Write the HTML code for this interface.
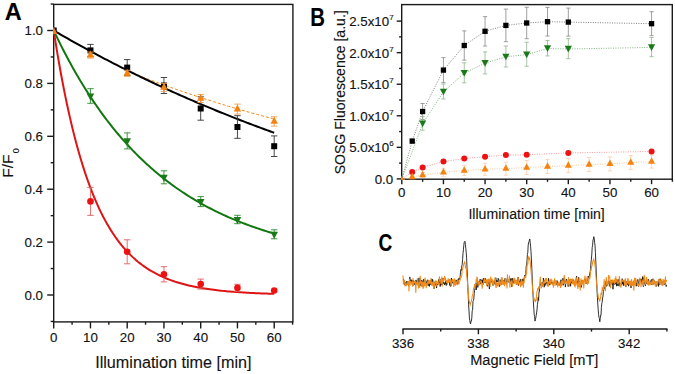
<!DOCTYPE html>
<html><head><meta charset="utf-8"><style>
html,body{margin:0;padding:0;background:#fff;}
svg{display:block;}
text{font-family:"Liberation Sans", sans-serif;fill:#111;stroke:#111;stroke-width:0.12px;}
.tl{font-size:13.3px;}
.sup{font-size:8px;}
.xt{font-size:16.3px;}
.xt2{font-size:14px;}
.xt3{font-size:14px;}
.yt{font-size:15.5px;}
.yt2{font-size:13.8px;}
.pl{font-size:24.5px;font-weight:bold;fill:#000;}
</style></head><body>
<svg width="675" height="374" viewBox="0 0 675 374">
<rect x="53.7" y="4.4" width="239.2" height="317.5" fill="none" stroke="#1a1a1a" stroke-width="1.4"/>
<line x1="47.2" y1="295.00" x2="53.7" y2="295.00" stroke="#1a1a1a" stroke-width="1.4"/>
<text x="43.0" y="299.60" text-anchor="end" class="tl">0.0</text>
<line x1="47.2" y1="242.10" x2="53.7" y2="242.10" stroke="#1a1a1a" stroke-width="1.4"/>
<text x="43.0" y="246.70" text-anchor="end" class="tl">0.2</text>
<line x1="47.2" y1="189.20" x2="53.7" y2="189.20" stroke="#1a1a1a" stroke-width="1.4"/>
<text x="43.0" y="193.80" text-anchor="end" class="tl">0.4</text>
<line x1="47.2" y1="136.30" x2="53.7" y2="136.30" stroke="#1a1a1a" stroke-width="1.4"/>
<text x="43.0" y="140.90" text-anchor="end" class="tl">0.6</text>
<line x1="47.2" y1="83.40" x2="53.7" y2="83.40" stroke="#1a1a1a" stroke-width="1.4"/>
<text x="43.0" y="88.00" text-anchor="end" class="tl">0.8</text>
<line x1="47.2" y1="30.50" x2="53.7" y2="30.50" stroke="#1a1a1a" stroke-width="1.4"/>
<text x="43.0" y="35.10" text-anchor="end" class="tl">1.0</text>
<line x1="50.7" y1="321.45" x2="53.7" y2="321.45" stroke="#1a1a1a" stroke-width="1.4"/>
<line x1="50.7" y1="268.55" x2="53.7" y2="268.55" stroke="#1a1a1a" stroke-width="1.4"/>
<line x1="50.7" y1="215.65" x2="53.7" y2="215.65" stroke="#1a1a1a" stroke-width="1.4"/>
<line x1="50.7" y1="162.75" x2="53.7" y2="162.75" stroke="#1a1a1a" stroke-width="1.4"/>
<line x1="50.7" y1="109.85" x2="53.7" y2="109.85" stroke="#1a1a1a" stroke-width="1.4"/>
<line x1="50.7" y1="56.95" x2="53.7" y2="56.95" stroke="#1a1a1a" stroke-width="1.4"/>
<line x1="50.7" y1="4.05" x2="53.7" y2="4.05" stroke="#1a1a1a" stroke-width="1.4"/>
<line x1="53.70" y1="321.9" x2="53.70" y2="328.4" stroke="#1a1a1a" stroke-width="1.4"/>
<text x="53.70" y="342.2" text-anchor="middle" class="tl">0</text>
<line x1="90.45" y1="321.9" x2="90.45" y2="328.4" stroke="#1a1a1a" stroke-width="1.4"/>
<text x="90.45" y="342.2" text-anchor="middle" class="tl">10</text>
<line x1="127.20" y1="321.9" x2="127.20" y2="328.4" stroke="#1a1a1a" stroke-width="1.4"/>
<text x="127.20" y="342.2" text-anchor="middle" class="tl">20</text>
<line x1="163.95" y1="321.9" x2="163.95" y2="328.4" stroke="#1a1a1a" stroke-width="1.4"/>
<text x="163.95" y="342.2" text-anchor="middle" class="tl">30</text>
<line x1="200.70" y1="321.9" x2="200.70" y2="328.4" stroke="#1a1a1a" stroke-width="1.4"/>
<text x="200.70" y="342.2" text-anchor="middle" class="tl">40</text>
<line x1="237.45" y1="321.9" x2="237.45" y2="328.4" stroke="#1a1a1a" stroke-width="1.4"/>
<text x="237.45" y="342.2" text-anchor="middle" class="tl">50</text>
<line x1="274.20" y1="321.9" x2="274.20" y2="328.4" stroke="#1a1a1a" stroke-width="1.4"/>
<text x="274.20" y="342.2" text-anchor="middle" class="tl">60</text>
<line x1="72.08" y1="321.9" x2="72.08" y2="324.7" stroke="#1a1a1a" stroke-width="1.4"/>
<line x1="108.83" y1="321.9" x2="108.83" y2="324.7" stroke="#1a1a1a" stroke-width="1.4"/>
<line x1="145.57" y1="321.9" x2="145.57" y2="324.7" stroke="#1a1a1a" stroke-width="1.4"/>
<line x1="182.32" y1="321.9" x2="182.32" y2="324.7" stroke="#1a1a1a" stroke-width="1.4"/>
<line x1="219.07" y1="321.9" x2="219.07" y2="324.7" stroke="#1a1a1a" stroke-width="1.4"/>
<line x1="255.82" y1="321.9" x2="255.82" y2="324.7" stroke="#1a1a1a" stroke-width="1.4"/>
<line x1="292.57" y1="321.9" x2="292.57" y2="324.7" stroke="#1a1a1a" stroke-width="1.4"/>
<text x="95.2" y="368" textLength="156.3" lengthAdjust="spacingAndGlyphs" class="xt">Illumination time [min]</text>
<text transform="translate(13.4,177.7) rotate(-90)" class="yt">F/F<tspan dx="1.3" dy="5.7" font-size="9">0</tspan></text>
<text transform="translate(4.7,20.0) scale(0.96,1)" class="pl">A</text>
<defs><clipPath id="cA"><rect x="53.0" y="4.4" width="239.89999999999998" height="318.2"/></clipPath><clipPath id="cB"><rect x="401.0" y="4.6" width="271.3" height="175.3"/></clipPath></defs>
<g clip-path="url(#cA)">
<path d="M53.70,30.50 L55.54,42.19 L57.38,53.36 L59.21,64.04 L61.05,74.25 L62.89,84.00 L64.72,93.33 L66.56,102.24 L68.40,110.76 L70.24,118.90 L72.08,126.68 L73.91,134.12 L75.75,141.23 L77.59,148.03 L79.42,154.52 L81.26,160.73 L83.10,166.67 L84.94,172.34 L86.78,177.76 L88.61,182.94 L90.45,187.89 L92.29,192.63 L94.12,197.15 L95.96,201.47 L97.80,205.61 L99.64,209.56 L101.47,213.33 L103.31,216.94 L105.15,220.39 L106.99,223.69 L108.83,226.84 L110.66,229.85 L112.50,232.73 L114.34,235.48 L116.17,238.11 L118.01,240.63 L119.85,243.03 L121.69,245.33 L123.53,247.52 L125.36,249.62 L127.20,251.63 L129.04,253.54 L130.88,255.38 L132.71,257.13 L134.55,258.80 L136.39,260.40 L138.22,261.93 L140.06,263.39 L141.90,264.79 L143.74,266.12 L145.57,267.40 L147.41,268.62 L149.25,269.78 L151.09,270.90 L152.93,271.96 L154.76,272.98 L156.60,273.96 L158.44,274.89 L160.27,275.77 L162.11,276.62 L163.95,277.44 L165.79,278.21 L167.62,278.95 L169.46,279.66 L171.30,280.34 L173.14,280.99 L174.97,281.61 L176.81,282.20 L178.65,282.77 L180.49,283.31 L182.32,283.82 L184.16,284.32 L186.00,284.79 L187.84,285.24 L189.68,285.67 L191.51,286.08 L193.35,286.48 L195.19,286.85 L197.02,287.21 L198.86,287.56 L200.70,287.89 L202.54,288.20 L204.38,288.50 L206.21,288.79 L208.05,289.06 L209.89,289.33 L211.73,289.58 L213.56,289.82 L215.40,290.05 L217.24,290.26 L219.07,290.47 L220.91,290.67 L222.75,290.87 L224.59,291.05 L226.43,291.22 L228.26,291.39 L230.10,291.55 L231.94,291.70 L233.77,291.85 L235.61,291.99 L237.45,292.12 L239.29,292.25 L241.12,292.37 L242.96,292.49 L244.80,292.60 L246.64,292.70 L248.47,292.80 L250.31,292.90 L252.15,292.99 L253.99,293.08 L255.82,293.17 L257.66,293.25 L259.50,293.33 L261.34,293.40 L263.18,293.47 L265.01,293.54 L266.85,293.60 L268.69,293.66 L270.52,293.72 L272.36,293.78 L274.20,293.83" fill="none" stroke="#dd1515" stroke-width="2"/>
<g stroke="#e06060" stroke-width="0.9" opacity="1"><line x1="90.45" y1="187.40" x2="90.45" y2="215.40"/><line x1="87.25" y1="187.40" x2="93.65" y2="187.40"/><line x1="87.25" y1="215.40" x2="93.65" y2="215.40"/></g>
<g stroke="#e06060" stroke-width="0.9" opacity="1"><line x1="127.20" y1="239.80" x2="127.20" y2="263.80"/><line x1="124.00" y1="239.80" x2="130.40" y2="239.80"/><line x1="124.00" y1="263.80" x2="130.40" y2="263.80"/></g>
<g stroke="#e06060" stroke-width="0.9" opacity="1"><line x1="163.95" y1="266.70" x2="163.95" y2="281.90"/><line x1="160.75" y1="266.70" x2="167.15" y2="266.70"/><line x1="160.75" y1="281.90" x2="167.15" y2="281.90"/></g>
<g stroke="#e06060" stroke-width="0.9" opacity="1"><line x1="200.70" y1="279.10" x2="200.70" y2="289.10"/><line x1="197.50" y1="279.10" x2="203.90" y2="279.10"/><line x1="197.50" y1="289.10" x2="203.90" y2="289.10"/></g>
<g stroke="#e06060" stroke-width="0.9" opacity="1"><line x1="237.45" y1="284.30" x2="237.45" y2="291.50"/><line x1="234.25" y1="284.30" x2="240.65" y2="284.30"/><line x1="234.25" y1="291.50" x2="240.65" y2="291.50"/></g>
<circle cx="90.45" cy="201.40" r="3.3" fill="#ee1111"/>
<circle cx="127.20" cy="251.80" r="3.3" fill="#ee1111"/>
<circle cx="163.95" cy="274.30" r="3.3" fill="#ee1111"/>
<circle cx="200.70" cy="284.10" r="3.3" fill="#ee1111"/>
<circle cx="237.45" cy="287.90" r="3.3" fill="#ee1111"/>
<circle cx="274.20" cy="290.50" r="3.3" fill="#ee1111"/>
<path d="M53.70,30.50 L55.54,34.36 L57.38,38.16 L59.21,41.90 L61.05,45.58 L62.89,49.20 L64.72,52.75 L66.56,56.25 L68.40,59.69 L70.24,63.08 L72.08,66.41 L73.91,69.68 L75.75,72.90 L77.59,76.07 L79.42,79.19 L81.26,82.25 L83.10,85.26 L84.94,88.23 L86.78,91.15 L88.61,94.01 L90.45,96.84 L92.29,99.61 L94.12,102.34 L95.96,105.03 L97.80,107.67 L99.64,110.26 L101.47,112.82 L103.31,115.33 L105.15,117.80 L106.99,120.23 L108.83,122.62 L110.66,124.98 L112.50,127.29 L114.34,129.56 L116.17,131.80 L118.01,134.00 L119.85,136.17 L121.69,138.30 L123.53,140.39 L125.36,142.45 L127.20,144.48 L129.04,146.47 L130.88,148.43 L132.71,150.36 L134.55,152.26 L136.39,154.12 L138.22,155.96 L140.06,157.76 L141.90,159.54 L143.74,161.28 L145.57,163.00 L147.41,164.69 L149.25,166.35 L151.09,167.98 L152.93,169.59 L154.76,171.17 L156.60,172.73 L158.44,174.26 L160.27,175.76 L162.11,177.24 L163.95,178.70 L165.79,180.13 L167.62,181.54 L169.46,182.92 L171.30,184.28 L173.14,185.62 L174.97,186.94 L176.81,188.24 L178.65,189.51 L180.49,190.76 L182.32,192.00 L184.16,193.21 L186.00,194.40 L187.84,195.58 L189.68,196.73 L191.51,197.87 L193.35,198.98 L195.19,200.08 L197.02,201.16 L198.86,202.23 L200.70,203.27 L202.54,204.30 L204.38,205.31 L206.21,206.30 L208.05,207.28 L209.89,208.25 L211.73,209.19 L213.56,210.12 L215.40,211.04 L217.24,211.94 L219.07,212.82 L220.91,213.70 L222.75,214.55 L224.59,215.40 L226.43,216.22 L228.26,217.04 L230.10,217.84 L231.94,218.63 L233.77,219.41 L235.61,220.17 L237.45,220.92 L239.29,221.66 L241.12,222.39 L242.96,223.10 L244.80,223.80 L246.64,224.49 L248.47,225.17 L250.31,225.84 L252.15,226.50 L253.99,227.15 L255.82,227.78 L257.66,228.41 L259.50,229.02 L261.34,229.63 L263.18,230.22 L265.01,230.81 L266.85,231.39 L268.69,231.95 L270.52,232.51 L272.36,233.06 L274.20,233.60" fill="none" stroke="#117711" stroke-width="2"/>
<g stroke="#2a8a2a" stroke-width="0.9" opacity="1"><line x1="90.45" y1="88.70" x2="90.45" y2="103.30"/><line x1="87.25" y1="88.70" x2="93.65" y2="88.70"/><line x1="87.25" y1="103.30" x2="93.65" y2="103.30"/></g>
<g stroke="#2a8a2a" stroke-width="0.9" opacity="1"><line x1="127.20" y1="132.90" x2="127.20" y2="148.90"/><line x1="124.00" y1="132.90" x2="130.40" y2="132.90"/><line x1="124.00" y1="148.90" x2="130.40" y2="148.90"/></g>
<g stroke="#2a8a2a" stroke-width="0.9" opacity="1"><line x1="163.95" y1="170.80" x2="163.95" y2="183.80"/><line x1="160.75" y1="170.80" x2="167.15" y2="170.80"/><line x1="160.75" y1="183.80" x2="167.15" y2="183.80"/></g>
<g stroke="#2a8a2a" stroke-width="0.9" opacity="1"><line x1="200.70" y1="196.60" x2="200.70" y2="206.60"/><line x1="197.50" y1="196.60" x2="203.90" y2="196.60"/><line x1="197.50" y1="206.60" x2="203.90" y2="206.60"/></g>
<g stroke="#2a8a2a" stroke-width="0.9" opacity="1"><line x1="237.45" y1="215.30" x2="237.45" y2="223.70"/><line x1="234.25" y1="215.30" x2="240.65" y2="215.30"/><line x1="234.25" y1="223.70" x2="240.65" y2="223.70"/></g>
<g stroke="#2a8a2a" stroke-width="0.9" opacity="1"><line x1="274.20" y1="229.80" x2="274.20" y2="238.80"/><line x1="271.00" y1="229.80" x2="277.40" y2="229.80"/><line x1="271.00" y1="238.80" x2="277.40" y2="238.80"/></g>
<path d="M90.45,100.53 L94.25,93.47 L86.65,93.47Z" fill="#1a7a1a"/>
<path d="M127.20,145.43 L131.00,138.37 L123.40,138.37Z" fill="#1a7a1a"/>
<path d="M163.95,181.83 L167.75,174.77 L160.15,174.77Z" fill="#1a7a1a"/>
<path d="M200.70,206.13 L204.50,199.07 L196.90,199.07Z" fill="#1a7a1a"/>
<path d="M237.45,224.03 L241.25,216.97 L233.65,216.97Z" fill="#1a7a1a"/>
<path d="M274.20,238.83 L278.00,231.77 L270.40,231.77Z" fill="#1a7a1a"/>
<path d="M53.70,30.50 L55.54,31.58 L57.38,32.65 L59.21,33.71 L61.05,34.78 L62.89,35.83 L64.72,36.89 L66.56,37.94 L68.40,38.98 L70.24,40.02 L72.08,41.06 L73.91,42.09 L75.75,43.12 L77.59,44.15 L79.42,45.17 L81.26,46.18 L83.10,47.20 L84.94,48.20 L86.78,49.21 L88.61,50.21 L90.45,51.20 L92.29,52.19 L94.12,53.18 L95.96,54.16 L97.80,55.14 L99.64,56.12 L101.47,57.09 L103.31,58.06 L105.15,59.02 L106.99,59.98 L108.83,60.94 L110.66,61.89 L112.50,62.84 L114.34,63.78 L116.17,64.72 L118.01,65.66 L119.85,66.59 L121.69,67.52 L123.53,68.44 L125.36,69.37 L127.20,70.28 L129.04,71.20 L130.88,72.11 L132.71,73.01 L134.55,73.92 L136.39,74.63 L138.22,75.35 L140.06,76.06 L141.90,76.77 L143.74,77.47 L145.57,78.17 L147.41,78.87 L149.25,79.56 L151.09,80.25 L152.93,80.93 L154.76,81.61 L156.60,82.29 L158.44,82.97 L160.27,83.64 L162.11,84.31 L163.95,84.97 L165.79,85.63 L167.62,86.29 L169.46,86.95 L171.30,87.60 L173.14,88.24 L174.97,88.89 L176.81,89.53 L178.65,90.17 L180.49,90.80 L182.32,91.43 L184.16,92.06 L186.00,92.68 L187.84,93.30 L189.68,93.92 L191.51,94.54 L193.35,95.15 L195.19,95.76 L197.02,96.36 L198.86,96.96 L200.70,97.56 L202.54,98.16 L204.38,98.75 L206.21,99.34 L208.05,99.92 L209.89,100.50 L211.73,101.08 L213.56,101.66 L215.40,102.23 L217.24,102.80 L219.07,103.37 L220.91,103.94 L222.75,104.50 L224.59,105.06 L226.43,105.61 L228.26,106.16 L230.10,106.71 L231.94,107.26 L233.77,107.80 L235.61,108.34 L237.45,108.88 L239.29,109.41 L241.12,109.94 L242.96,110.47 L244.80,111.00 L246.64,111.52 L248.47,112.04 L250.31,112.56 L252.15,113.07 L253.99,113.59 L255.82,114.09 L257.66,114.60 L259.50,115.10 L261.34,115.60 L263.18,116.10 L265.01,116.60 L266.85,117.09 L268.69,117.58 L270.52,118.06 L272.36,118.55 L274.20,119.03" fill="none" stroke="#f5820f" stroke-width="1" stroke-dasharray="3,2"/>
<path d="M53.70,30.50 L55.54,31.58 L57.38,32.65 L59.21,33.71 L61.05,34.78 L62.89,35.83 L64.72,36.89 L66.56,37.94 L68.40,38.98 L70.24,40.02 L72.08,41.06 L73.91,42.09 L75.75,43.12 L77.59,44.15 L79.42,45.17 L81.26,46.18 L83.10,47.20 L84.94,48.20 L86.78,49.21 L88.61,50.21 L90.45,51.20 L92.29,52.19 L94.12,53.18 L95.96,54.16 L97.80,55.14 L99.64,56.12 L101.47,57.09 L103.31,58.06 L105.15,59.02 L106.99,59.98 L108.83,60.94 L110.66,61.89 L112.50,62.84 L114.34,63.78 L116.17,64.72 L118.01,65.66 L119.85,66.59 L121.69,67.52 L123.53,68.44 L125.36,69.37 L127.20,70.28 L129.04,71.20 L130.88,72.11 L132.71,73.01 L134.55,73.92 L136.39,74.82 L138.22,75.71 L140.06,76.60 L141.90,77.49 L143.74,78.38 L145.57,79.26 L147.41,80.13 L149.25,81.01 L151.09,81.88 L152.93,82.74 L154.76,83.61 L156.60,84.47 L158.44,85.32 L160.27,86.18 L162.11,87.03 L163.95,87.87 L165.79,88.71 L167.62,89.55 L169.46,90.39 L171.30,91.22 L173.14,92.05 L174.97,92.87 L176.81,93.70 L178.65,94.51 L180.49,95.33 L182.32,96.14 L184.16,96.95 L186.00,97.76 L187.84,98.56 L189.68,99.36 L191.51,100.15 L193.35,100.95 L195.19,101.73 L197.02,102.52 L198.86,103.30 L200.70,104.08 L202.54,104.86 L204.38,105.63 L206.21,106.40 L208.05,107.17 L209.89,107.93 L211.73,108.69 L213.56,109.45 L215.40,110.21 L217.24,110.96 L219.07,111.71 L220.91,112.45 L222.75,113.19 L224.59,113.93 L226.43,114.67 L228.26,115.40 L230.10,116.13 L231.94,116.86 L233.77,117.59 L235.61,118.31 L237.45,119.03 L239.29,119.74 L241.12,120.45 L242.96,121.16 L244.80,121.87 L246.64,122.57 L248.47,123.28 L250.31,123.97 L252.15,124.67 L253.99,125.36 L255.82,126.05 L257.66,126.74 L259.50,127.42 L261.34,128.10 L263.18,128.78 L265.01,129.46 L266.85,130.13 L268.69,130.80 L270.52,131.47 L272.36,132.14 L274.20,132.80" fill="none" stroke="#000" stroke-width="2"/>
<g stroke="#333" stroke-width="0.9" opacity="1"><line x1="90.45" y1="44.40" x2="90.45" y2="56.40"/><line x1="87.25" y1="44.40" x2="93.65" y2="44.40"/><line x1="87.25" y1="56.40" x2="93.65" y2="56.40"/></g>
<g stroke="#333" stroke-width="0.9" opacity="1"><line x1="127.20" y1="59.60" x2="127.20" y2="75.60"/><line x1="124.00" y1="59.60" x2="130.40" y2="59.60"/><line x1="124.00" y1="75.60" x2="130.40" y2="75.60"/></g>
<g stroke="#333" stroke-width="0.9" opacity="1"><line x1="163.95" y1="77.50" x2="163.95" y2="93.50"/><line x1="160.75" y1="77.50" x2="167.15" y2="77.50"/><line x1="160.75" y1="93.50" x2="167.15" y2="93.50"/></g>
<g stroke="#333" stroke-width="0.9" opacity="1"><line x1="200.70" y1="96.80" x2="200.70" y2="120.20"/><line x1="197.50" y1="96.80" x2="203.90" y2="96.80"/><line x1="197.50" y1="120.20" x2="203.90" y2="120.20"/></g>
<g stroke="#333" stroke-width="0.9" opacity="1"><line x1="237.45" y1="115.70" x2="237.45" y2="138.30"/><line x1="234.25" y1="115.70" x2="240.65" y2="115.70"/><line x1="234.25" y1="138.30" x2="240.65" y2="138.30"/></g>
<g stroke="#333" stroke-width="0.9" opacity="1"><line x1="274.20" y1="135.90" x2="274.20" y2="156.50"/><line x1="271.00" y1="135.90" x2="277.40" y2="135.90"/><line x1="271.00" y1="156.50" x2="277.40" y2="156.50"/></g>
<rect x="50.70" y="27.50" width="6" height="6" fill="#000000"/>
<rect x="87.45" y="47.40" width="6" height="6" fill="#000000"/>
<rect x="124.20" y="64.60" width="6" height="6" fill="#000000"/>
<rect x="160.95" y="82.50" width="6" height="6" fill="#000000"/>
<rect x="197.70" y="105.50" width="6" height="6" fill="#000000"/>
<rect x="234.45" y="124.00" width="6" height="6" fill="#000000"/>
<rect x="271.20" y="143.20" width="6" height="6" fill="#000000"/>
<g stroke="#f0a050" stroke-width="0.9" opacity="1"><line x1="90.45" y1="52.10" x2="90.45" y2="58.10"/><line x1="87.25" y1="52.10" x2="93.65" y2="52.10"/><line x1="87.25" y1="58.10" x2="93.65" y2="58.10"/></g>
<g stroke="#f0a050" stroke-width="0.9" opacity="1"><line x1="127.20" y1="70.30" x2="127.20" y2="76.30"/><line x1="124.00" y1="70.30" x2="130.40" y2="70.30"/><line x1="124.00" y1="76.30" x2="130.40" y2="76.30"/></g>
<g stroke="#f0a050" stroke-width="0.9" opacity="1"><line x1="163.95" y1="83.40" x2="163.95" y2="91.40"/><line x1="160.75" y1="83.40" x2="167.15" y2="83.40"/><line x1="160.75" y1="91.40" x2="167.15" y2="91.40"/></g>
<g stroke="#f0a050" stroke-width="0.9" opacity="1"><line x1="200.70" y1="94.50" x2="200.70" y2="102.50"/><line x1="197.50" y1="94.50" x2="203.90" y2="94.50"/><line x1="197.50" y1="102.50" x2="203.90" y2="102.50"/></g>
<g stroke="#f0a050" stroke-width="0.9" opacity="1"><line x1="237.45" y1="104.10" x2="237.45" y2="114.10"/><line x1="234.25" y1="104.10" x2="240.65" y2="104.10"/><line x1="234.25" y1="114.10" x2="240.65" y2="114.10"/></g>
<g stroke="#f0a050" stroke-width="0.9" opacity="1"><line x1="274.20" y1="116.70" x2="274.20" y2="126.10"/><line x1="271.00" y1="116.70" x2="277.40" y2="116.70"/><line x1="271.00" y1="126.10" x2="277.40" y2="126.10"/></g>
<path d="M53.70,27.06 L57.40,33.94 L50.00,33.94Z" fill="#f5820f"/>
<path d="M90.45,50.56 L94.15,57.44 L86.75,57.44Z" fill="#f5820f"/>
<path d="M127.20,68.76 L130.90,75.64 L123.50,75.64Z" fill="#f5820f"/>
<path d="M163.95,82.86 L167.65,89.74 L160.25,89.74Z" fill="#f5820f"/>
<path d="M200.70,93.96 L204.40,100.84 L197.00,100.84Z" fill="#f5820f"/>
<path d="M237.45,104.56 L241.15,111.44 L233.75,111.44Z" fill="#f5820f"/>
<path d="M274.20,116.86 L277.90,123.74 L270.50,123.74Z" fill="#f5820f"/>
</g>
<rect x="401.7" y="4.6" width="270.59999999999997" height="174.6" fill="none" stroke="#1a1a1a" stroke-width="1.4"/>
<line x1="396.7" y1="178.90" x2="401.7" y2="178.90" stroke="#1a1a1a" stroke-width="1.4"/>
<text x="393.2" y="183.90" text-anchor="end" class="tl">0.0</text>
<line x1="396.7" y1="147.34" x2="401.7" y2="147.34" stroke="#1a1a1a" stroke-width="1.4"/>
<text x="393.59999999999997" y="152.34" text-anchor="end" class="tl">5.0x10<tspan class="sup" dy="-6">6</tspan></text>
<line x1="396.7" y1="115.78" x2="401.7" y2="115.78" stroke="#1a1a1a" stroke-width="1.4"/>
<text x="393.59999999999997" y="120.78" text-anchor="end" class="tl">1.0x10<tspan class="sup" dy="-6">7</tspan></text>
<line x1="396.7" y1="84.22" x2="401.7" y2="84.22" stroke="#1a1a1a" stroke-width="1.4"/>
<text x="393.59999999999997" y="89.22" text-anchor="end" class="tl">1.5x10<tspan class="sup" dy="-6">7</tspan></text>
<line x1="396.7" y1="52.66" x2="401.7" y2="52.66" stroke="#1a1a1a" stroke-width="1.4"/>
<text x="393.59999999999997" y="57.66" text-anchor="end" class="tl">2.0x10<tspan class="sup" dy="-6">7</tspan></text>
<line x1="396.7" y1="21.10" x2="401.7" y2="21.10" stroke="#1a1a1a" stroke-width="1.4"/>
<text x="393.59999999999997" y="26.10" text-anchor="end" class="tl">2.5x10<tspan class="sup" dy="-6">7</tspan></text>
<line x1="399.09999999999997" y1="163.12" x2="401.7" y2="163.12" stroke="#1a1a1a" stroke-width="1.4"/>
<line x1="399.09999999999997" y1="131.56" x2="401.7" y2="131.56" stroke="#1a1a1a" stroke-width="1.4"/>
<line x1="399.09999999999997" y1="100.00" x2="401.7" y2="100.00" stroke="#1a1a1a" stroke-width="1.4"/>
<line x1="399.09999999999997" y1="68.44" x2="401.7" y2="68.44" stroke="#1a1a1a" stroke-width="1.4"/>
<line x1="399.09999999999997" y1="36.88" x2="401.7" y2="36.88" stroke="#1a1a1a" stroke-width="1.4"/>
<line x1="401.80" y1="179.2" x2="401.80" y2="184.2" stroke="#1a1a1a" stroke-width="1.4"/>
<text x="401.80" y="197.39999999999998" text-anchor="middle" class="tl">0</text>
<line x1="443.43" y1="179.2" x2="443.43" y2="184.2" stroke="#1a1a1a" stroke-width="1.4"/>
<text x="443.43" y="197.39999999999998" text-anchor="middle" class="tl">10</text>
<line x1="485.06" y1="179.2" x2="485.06" y2="184.2" stroke="#1a1a1a" stroke-width="1.4"/>
<text x="485.06" y="197.39999999999998" text-anchor="middle" class="tl">20</text>
<line x1="526.69" y1="179.2" x2="526.69" y2="184.2" stroke="#1a1a1a" stroke-width="1.4"/>
<text x="526.69" y="197.39999999999998" text-anchor="middle" class="tl">30</text>
<line x1="568.32" y1="179.2" x2="568.32" y2="184.2" stroke="#1a1a1a" stroke-width="1.4"/>
<text x="568.32" y="197.39999999999998" text-anchor="middle" class="tl">40</text>
<line x1="609.95" y1="179.2" x2="609.95" y2="184.2" stroke="#1a1a1a" stroke-width="1.4"/>
<text x="609.95" y="197.39999999999998" text-anchor="middle" class="tl">50</text>
<line x1="651.58" y1="179.2" x2="651.58" y2="184.2" stroke="#1a1a1a" stroke-width="1.4"/>
<text x="651.58" y="197.39999999999998" text-anchor="middle" class="tl">60</text>
<line x1="422.62" y1="179.2" x2="422.62" y2="181.79999999999998" stroke="#1a1a1a" stroke-width="1.4"/>
<line x1="464.25" y1="179.2" x2="464.25" y2="181.79999999999998" stroke="#1a1a1a" stroke-width="1.4"/>
<line x1="505.88" y1="179.2" x2="505.88" y2="181.79999999999998" stroke="#1a1a1a" stroke-width="1.4"/>
<line x1="547.50" y1="179.2" x2="547.50" y2="181.79999999999998" stroke="#1a1a1a" stroke-width="1.4"/>
<line x1="589.13" y1="179.2" x2="589.13" y2="181.79999999999998" stroke="#1a1a1a" stroke-width="1.4"/>
<line x1="630.76" y1="179.2" x2="630.76" y2="181.79999999999998" stroke="#1a1a1a" stroke-width="1.4"/>
<line x1="672.39" y1="179.2" x2="672.39" y2="181.79999999999998" stroke="#1a1a1a" stroke-width="1.4"/>
<text x="468.4" y="219.4" textLength="136.4" lengthAdjust="spacingAndGlyphs" class="xt2">Illumination time [min]</text>
<text transform="translate(344.8,174.3) rotate(-90)" textLength="164" lengthAdjust="spacingAndGlyphs" class="yt2">SOSG Fluorescence [a.u.]</text>
<text transform="translate(310.2,25.7) scale(0.83,1.04)" class="pl">B</text>
<g clip-path="url(#cB)">
<path d="M401.80,179.00 L412.21,141.10 L422.62,111.50 L443.43,70.10 L464.25,45.50 L485.06,31.30 L505.88,25.40 L526.69,23.00 L547.50,21.70 L568.32,22.10 L651.58,23.70" fill="none" stroke="#555" stroke-width="0.75" stroke-dasharray="1,1.4" opacity="1"/>
<path d="M401.80,179.30 L422.62,123.70 L443.43,91.80 L464.25,73.10 L485.06,63.20 L505.88,56.80 L526.69,54.60 L547.50,48.50 L568.32,49.00 L651.58,47.40" fill="none" stroke="#5a9a5a" stroke-width="0.75" stroke-dasharray="1,1.4" opacity="1"/>
<path d="M401.80,179.00 L412.21,172.10 L422.62,167.40 L443.43,161.60 L464.25,158.50 L485.06,156.80 L505.88,155.10 L526.69,154.80 L568.32,152.90 L651.58,151.50" fill="none" stroke="#f07878" stroke-width="0.75" stroke-dasharray="1,1.4" opacity="1"/>
<path d="M401.80,180.10 L412.21,177.10 L422.62,175.00 L443.43,172.30 L464.25,170.50 L485.06,169.30 L505.88,168.70 L526.69,167.50 L547.50,166.50 L568.32,165.60 L589.13,164.50 L609.95,163.90 L630.76,162.50 L651.58,161.60" fill="none" stroke="#f5b070" stroke-width="0.75" stroke-dasharray="1,1.4" opacity="1"/>
<g stroke="#888" stroke-width="0.8" opacity="1"><line x1="412.21" y1="139.10" x2="412.21" y2="143.10"/><line x1="410.11" y1="139.10" x2="414.31" y2="139.10"/><line x1="410.11" y1="143.10" x2="414.31" y2="143.10"/></g>
<g stroke="#888" stroke-width="0.8" opacity="1"><line x1="422.62" y1="103.50" x2="422.62" y2="119.50"/><line x1="420.51" y1="103.50" x2="424.72" y2="103.50"/><line x1="420.51" y1="119.50" x2="424.72" y2="119.50"/></g>
<g stroke="#888" stroke-width="0.8" opacity="1"><line x1="443.43" y1="57.60" x2="443.43" y2="82.60"/><line x1="441.33" y1="57.60" x2="445.53" y2="57.60"/><line x1="441.33" y1="82.60" x2="445.53" y2="82.60"/></g>
<g stroke="#888" stroke-width="0.8" opacity="1"><line x1="464.25" y1="30.90" x2="464.25" y2="60.10"/><line x1="462.14" y1="30.90" x2="466.35" y2="30.90"/><line x1="462.14" y1="60.10" x2="466.35" y2="60.10"/></g>
<g stroke="#888" stroke-width="0.8" opacity="1"><line x1="485.06" y1="16.60" x2="485.06" y2="46.00"/><line x1="482.96" y1="16.60" x2="487.16" y2="16.60"/><line x1="482.96" y1="46.00" x2="487.16" y2="46.00"/></g>
<g stroke="#888" stroke-width="0.8" opacity="1"><line x1="505.88" y1="9.10" x2="505.88" y2="41.70"/><line x1="503.77" y1="9.10" x2="507.98" y2="9.10"/><line x1="503.77" y1="41.70" x2="507.98" y2="41.70"/></g>
<g stroke="#888" stroke-width="0.8" opacity="1"><line x1="526.69" y1="7.30" x2="526.69" y2="38.70"/><line x1="524.59" y1="7.30" x2="528.79" y2="7.30"/><line x1="524.59" y1="38.70" x2="528.79" y2="38.70"/></g>
<g stroke="#888" stroke-width="0.8" opacity="1"><line x1="547.50" y1="7.40" x2="547.50" y2="36.00"/><line x1="545.40" y1="7.40" x2="549.61" y2="7.40"/><line x1="545.40" y1="36.00" x2="549.61" y2="36.00"/></g>
<g stroke="#888" stroke-width="0.8" opacity="1"><line x1="568.32" y1="8.10" x2="568.32" y2="36.10"/><line x1="566.22" y1="8.10" x2="570.42" y2="8.10"/><line x1="566.22" y1="36.10" x2="570.42" y2="36.10"/></g>
<g stroke="#888" stroke-width="0.8" opacity="1"><line x1="651.58" y1="11.70" x2="651.58" y2="35.70"/><line x1="649.48" y1="11.70" x2="653.68" y2="11.70"/><line x1="649.48" y1="35.70" x2="653.68" y2="35.70"/></g>
<g stroke="#8fb58f" stroke-width="0.8" opacity="1"><line x1="422.62" y1="116.60" x2="422.62" y2="130.20"/><line x1="420.51" y1="116.60" x2="424.72" y2="116.60"/><line x1="420.51" y1="130.20" x2="424.72" y2="130.20"/></g>
<g stroke="#8fb58f" stroke-width="0.8" opacity="1"><line x1="443.43" y1="84.00" x2="443.43" y2="99.00"/><line x1="441.33" y1="84.00" x2="445.53" y2="84.00"/><line x1="441.33" y1="99.00" x2="445.53" y2="99.00"/></g>
<g stroke="#8fb58f" stroke-width="0.8" opacity="1"><line x1="464.25" y1="62.80" x2="464.25" y2="82.80"/><line x1="462.14" y1="62.80" x2="466.35" y2="62.80"/><line x1="462.14" y1="82.80" x2="466.35" y2="82.80"/></g>
<g stroke="#8fb58f" stroke-width="0.8" opacity="1"><line x1="485.06" y1="51.90" x2="485.06" y2="73.90"/><line x1="482.96" y1="51.90" x2="487.16" y2="51.90"/><line x1="482.96" y1="73.90" x2="487.16" y2="73.90"/></g>
<g stroke="#8fb58f" stroke-width="0.8" opacity="1"><line x1="505.88" y1="46.00" x2="505.88" y2="67.00"/><line x1="503.77" y1="46.00" x2="507.98" y2="46.00"/><line x1="503.77" y1="67.00" x2="507.98" y2="67.00"/></g>
<g stroke="#8fb58f" stroke-width="0.8" opacity="1"><line x1="526.69" y1="42.30" x2="526.69" y2="66.30"/><line x1="524.59" y1="42.30" x2="528.79" y2="42.30"/><line x1="524.59" y1="66.30" x2="528.79" y2="66.30"/></g>
<g stroke="#8fb58f" stroke-width="0.8" opacity="1"><line x1="547.50" y1="40.50" x2="547.50" y2="55.90"/><line x1="545.40" y1="40.50" x2="549.61" y2="40.50"/><line x1="545.40" y1="55.90" x2="549.61" y2="55.90"/></g>
<g stroke="#8fb58f" stroke-width="0.8" opacity="1"><line x1="568.32" y1="38.70" x2="568.32" y2="58.70"/><line x1="566.22" y1="38.70" x2="570.42" y2="38.70"/><line x1="566.22" y1="58.70" x2="570.42" y2="58.70"/></g>
<g stroke="#8fb58f" stroke-width="0.8" opacity="1"><line x1="651.58" y1="37.50" x2="651.58" y2="56.70"/><line x1="649.48" y1="37.50" x2="653.68" y2="37.50"/><line x1="649.48" y1="56.70" x2="653.68" y2="56.70"/></g>
<g stroke="#f4a0a0" stroke-width="0.7" opacity="1"><line x1="412.21" y1="171.10" x2="412.21" y2="173.10"/><line x1="410.11" y1="171.10" x2="414.31" y2="171.10"/><line x1="410.11" y1="173.10" x2="414.31" y2="173.10"/></g>
<g stroke="#f4a0a0" stroke-width="0.7" opacity="1"><line x1="422.62" y1="166.40" x2="422.62" y2="168.40"/><line x1="420.51" y1="166.40" x2="424.72" y2="166.40"/><line x1="420.51" y1="168.40" x2="424.72" y2="168.40"/></g>
<g stroke="#f4a0a0" stroke-width="0.7" opacity="1"><line x1="443.43" y1="160.10" x2="443.43" y2="163.10"/><line x1="441.33" y1="160.10" x2="445.53" y2="160.10"/><line x1="441.33" y1="163.10" x2="445.53" y2="163.10"/></g>
<g stroke="#f4a0a0" stroke-width="0.7" opacity="1"><line x1="464.25" y1="157.00" x2="464.25" y2="160.00"/><line x1="462.14" y1="157.00" x2="466.35" y2="157.00"/><line x1="462.14" y1="160.00" x2="466.35" y2="160.00"/></g>
<g stroke="#f4a0a0" stroke-width="0.7" opacity="1"><line x1="485.06" y1="155.30" x2="485.06" y2="158.30"/><line x1="482.96" y1="155.30" x2="487.16" y2="155.30"/><line x1="482.96" y1="158.30" x2="487.16" y2="158.30"/></g>
<g stroke="#f4a0a0" stroke-width="0.7" opacity="1"><line x1="505.88" y1="153.60" x2="505.88" y2="156.60"/><line x1="503.77" y1="153.60" x2="507.98" y2="153.60"/><line x1="503.77" y1="156.60" x2="507.98" y2="156.60"/></g>
<g stroke="#f4a0a0" stroke-width="0.7" opacity="1"><line x1="526.69" y1="153.30" x2="526.69" y2="156.30"/><line x1="524.59" y1="153.30" x2="528.79" y2="153.30"/><line x1="524.59" y1="156.30" x2="528.79" y2="156.30"/></g>
<g stroke="#f4a0a0" stroke-width="0.7" opacity="1"><line x1="568.32" y1="151.40" x2="568.32" y2="154.40"/><line x1="566.22" y1="151.40" x2="570.42" y2="151.40"/><line x1="566.22" y1="154.40" x2="570.42" y2="154.40"/></g>
<g stroke="#f4a0a0" stroke-width="0.7" opacity="1"><line x1="651.58" y1="150.00" x2="651.58" y2="153.00"/><line x1="649.48" y1="150.00" x2="653.68" y2="150.00"/><line x1="649.48" y1="153.00" x2="653.68" y2="153.00"/></g>
<g stroke="#f7c9a0" stroke-width="0.7" opacity="1"><line x1="412.21" y1="175.60" x2="412.21" y2="178.60"/><line x1="410.11" y1="175.60" x2="414.31" y2="175.60"/><line x1="410.11" y1="178.60" x2="414.31" y2="178.60"/></g>
<g stroke="#f7c9a0" stroke-width="0.7" opacity="1"><line x1="422.62" y1="172.50" x2="422.62" y2="177.50"/><line x1="420.51" y1="172.50" x2="424.72" y2="172.50"/><line x1="420.51" y1="177.50" x2="424.72" y2="177.50"/></g>
<g stroke="#f7c9a0" stroke-width="0.7" opacity="1"><line x1="443.43" y1="168.30" x2="443.43" y2="176.30"/><line x1="441.33" y1="168.30" x2="445.53" y2="168.30"/><line x1="441.33" y1="176.30" x2="445.53" y2="176.30"/></g>
<g stroke="#f7c9a0" stroke-width="0.7" opacity="1"><line x1="464.25" y1="165.50" x2="464.25" y2="175.50"/><line x1="462.14" y1="165.50" x2="466.35" y2="165.50"/><line x1="462.14" y1="175.50" x2="466.35" y2="175.50"/></g>
<g stroke="#f7c9a0" stroke-width="0.7" opacity="1"><line x1="485.06" y1="163.30" x2="485.06" y2="175.30"/><line x1="482.96" y1="163.30" x2="487.16" y2="163.30"/><line x1="482.96" y1="175.30" x2="487.16" y2="175.30"/></g>
<g stroke="#f7c9a0" stroke-width="0.7" opacity="1"><line x1="505.88" y1="162.20" x2="505.88" y2="175.20"/><line x1="503.77" y1="162.20" x2="507.98" y2="162.20"/><line x1="503.77" y1="175.20" x2="507.98" y2="175.20"/></g>
<g stroke="#f7c9a0" stroke-width="0.7" opacity="1"><line x1="526.69" y1="160.50" x2="526.69" y2="174.50"/><line x1="524.59" y1="160.50" x2="528.79" y2="160.50"/><line x1="524.59" y1="174.50" x2="528.79" y2="174.50"/></g>
<g stroke="#f7c9a0" stroke-width="0.7" opacity="1"><line x1="547.50" y1="159.50" x2="547.50" y2="173.50"/><line x1="545.40" y1="159.50" x2="549.61" y2="159.50"/><line x1="545.40" y1="173.50" x2="549.61" y2="173.50"/></g>
<g stroke="#f7c9a0" stroke-width="0.7" opacity="1"><line x1="568.32" y1="158.60" x2="568.32" y2="172.60"/><line x1="566.22" y1="158.60" x2="570.42" y2="158.60"/><line x1="566.22" y1="172.60" x2="570.42" y2="172.60"/></g>
<g stroke="#f7c9a0" stroke-width="0.7" opacity="1"><line x1="589.13" y1="157.50" x2="589.13" y2="171.50"/><line x1="587.03" y1="157.50" x2="591.24" y2="157.50"/><line x1="587.03" y1="171.50" x2="591.24" y2="171.50"/></g>
<g stroke="#f7c9a0" stroke-width="0.7" opacity="1"><line x1="609.95" y1="156.90" x2="609.95" y2="170.90"/><line x1="607.85" y1="156.90" x2="612.05" y2="156.90"/><line x1="607.85" y1="170.90" x2="612.05" y2="170.90"/></g>
<g stroke="#f7c9a0" stroke-width="0.7" opacity="1"><line x1="630.76" y1="155.50" x2="630.76" y2="169.50"/><line x1="628.66" y1="155.50" x2="632.87" y2="155.50"/><line x1="628.66" y1="169.50" x2="632.87" y2="169.50"/></g>
<g stroke="#f7c9a0" stroke-width="0.7" opacity="1"><line x1="651.58" y1="155.10" x2="651.58" y2="168.10"/><line x1="649.48" y1="155.10" x2="653.68" y2="155.10"/><line x1="649.48" y1="168.10" x2="653.68" y2="168.10"/></g>
<rect x="409.56" y="138.45" width="5.3" height="5.3" fill="#000000"/>
<rect x="419.97" y="108.85" width="5.3" height="5.3" fill="#000000"/>
<rect x="440.78" y="67.45" width="5.3" height="5.3" fill="#000000"/>
<rect x="461.60" y="42.85" width="5.3" height="5.3" fill="#000000"/>
<rect x="482.41" y="28.65" width="5.3" height="5.3" fill="#000000"/>
<rect x="503.23" y="22.75" width="5.3" height="5.3" fill="#000000"/>
<rect x="524.04" y="20.35" width="5.3" height="5.3" fill="#000000"/>
<rect x="544.86" y="19.05" width="5.3" height="5.3" fill="#000000"/>
<rect x="565.67" y="19.45" width="5.3" height="5.3" fill="#000000"/>
<rect x="648.93" y="21.05" width="5.3" height="5.3" fill="#000000"/>
<path d="M422.62,127.25 L426.22,120.55 L419.01,120.55Z" fill="#1a7a1a"/>
<path d="M443.43,95.35 L447.03,88.65 L439.83,88.65Z" fill="#1a7a1a"/>
<path d="M464.25,76.65 L467.85,69.95 L460.64,69.95Z" fill="#1a7a1a"/>
<path d="M485.06,66.75 L488.66,60.05 L481.46,60.05Z" fill="#1a7a1a"/>
<path d="M505.88,60.35 L509.48,53.65 L502.27,53.65Z" fill="#1a7a1a"/>
<path d="M526.69,58.15 L530.29,51.45 L523.09,51.45Z" fill="#1a7a1a"/>
<path d="M547.50,52.05 L551.11,45.35 L543.90,45.35Z" fill="#1a7a1a"/>
<path d="M568.32,52.55 L571.92,45.85 L564.72,45.85Z" fill="#1a7a1a"/>
<path d="M651.58,50.95 L655.18,44.25 L647.98,44.25Z" fill="#1a7a1a"/>
<circle cx="412.21" cy="172.10" r="3.0" fill="#ee1111"/>
<circle cx="422.62" cy="167.40" r="3.0" fill="#ee1111"/>
<circle cx="443.43" cy="161.60" r="3.0" fill="#ee1111"/>
<circle cx="464.25" cy="158.50" r="3.0" fill="#ee1111"/>
<circle cx="485.06" cy="156.80" r="3.0" fill="#ee1111"/>
<circle cx="505.88" cy="155.10" r="3.0" fill="#ee1111"/>
<circle cx="526.69" cy="154.80" r="3.0" fill="#ee1111"/>
<circle cx="568.32" cy="152.90" r="3.0" fill="#ee1111"/>
<circle cx="651.58" cy="151.50" r="3.0" fill="#ee1111"/>
<path d="M401.80,175.75 L405.30,182.25 L398.30,182.25Z" fill="#f5820f"/>
<path d="M412.21,172.75 L415.71,179.25 L408.71,179.25Z" fill="#f5820f"/>
<path d="M422.62,170.65 L426.12,177.16 L419.12,177.16Z" fill="#f5820f"/>
<path d="M443.43,167.94 L446.93,174.45 L439.93,174.45Z" fill="#f5820f"/>
<path d="M464.25,166.15 L467.75,172.66 L460.75,172.66Z" fill="#f5820f"/>
<path d="M485.06,164.94 L488.56,171.45 L481.56,171.45Z" fill="#f5820f"/>
<path d="M505.88,164.34 L509.38,170.85 L502.38,170.85Z" fill="#f5820f"/>
<path d="M526.69,163.15 L530.19,169.66 L523.19,169.66Z" fill="#f5820f"/>
<path d="M547.50,162.15 L551.00,168.66 L544.00,168.66Z" fill="#f5820f"/>
<path d="M568.32,161.25 L571.82,167.75 L564.82,167.75Z" fill="#f5820f"/>
<path d="M589.13,160.15 L592.63,166.66 L585.63,166.66Z" fill="#f5820f"/>
<path d="M609.95,159.55 L613.45,166.06 L606.45,166.06Z" fill="#f5820f"/>
<path d="M630.76,158.15 L634.26,164.66 L627.26,164.66Z" fill="#f5820f"/>
<path d="M651.58,157.25 L655.08,163.75 L648.08,163.75Z" fill="#f5820f"/>
</g>
<line x1="402.40" y1="329.0" x2="667.50" y2="329.0" stroke="#1a1a1a" stroke-width="1.4"/>
<line x1="403.00" y1="329.0" x2="403.00" y2="334.2" stroke="#1a1a1a" stroke-width="1.4"/>
<text x="403.00" y="348.3" text-anchor="middle" class="tl">336</text>
<line x1="440.70" y1="329.0" x2="440.70" y2="331.6" stroke="#1a1a1a" stroke-width="1.4"/>
<line x1="478.40" y1="329.0" x2="478.40" y2="334.2" stroke="#1a1a1a" stroke-width="1.4"/>
<text x="478.40" y="348.3" text-anchor="middle" class="tl">338</text>
<line x1="516.10" y1="329.0" x2="516.10" y2="331.6" stroke="#1a1a1a" stroke-width="1.4"/>
<line x1="553.80" y1="329.0" x2="553.80" y2="334.2" stroke="#1a1a1a" stroke-width="1.4"/>
<text x="553.80" y="348.3" text-anchor="middle" class="tl">340</text>
<line x1="591.50" y1="329.0" x2="591.50" y2="331.6" stroke="#1a1a1a" stroke-width="1.4"/>
<line x1="629.20" y1="329.0" x2="629.20" y2="334.2" stroke="#1a1a1a" stroke-width="1.4"/>
<text x="629.20" y="348.3" text-anchor="middle" class="tl">342</text>
<line x1="666.90" y1="329.0" x2="666.90" y2="331.6" stroke="#1a1a1a" stroke-width="1.4"/>
<text x="470.2" y="365" textLength="128.2" lengthAdjust="spacingAndGlyphs" class="xt3">Magnetic Field [mT]</text>
<text transform="translate(378.4,251.1) scale(0.78,1)" class="pl">C</text>
<path d="M403.00,279.44 L403.40,279.07 L403.80,282.25 L404.20,284.16 L404.60,284.91 L405.00,282.33 L405.40,284.75 L405.80,285.70 L406.20,281.94 L406.60,282.09 L407.00,281.14 L407.40,284.50 L407.80,282.39 L408.20,282.55 L408.60,285.86 L409.00,281.16 L409.40,281.66 L409.80,276.91 L410.20,281.93 L410.60,282.73 L411.00,279.56 L411.40,281.94 L411.80,280.31 L412.20,283.24 L412.60,281.90 L413.00,280.04 L413.40,280.80 L413.80,282.10 L414.20,284.89 L414.60,281.38 L415.00,282.22 L415.40,280.74 L415.80,281.90 L416.20,279.90 L416.60,282.52 L417.00,281.94 L417.40,280.87 L417.80,284.90 L418.20,283.32 L418.60,283.55 L419.00,277.84 L419.40,282.61 L419.80,280.90 L420.20,280.98 L420.60,283.05 L421.00,285.97 L421.40,280.18 L421.80,283.34 L422.20,280.75 L422.60,285.40 L423.00,283.41 L423.40,279.51 L423.80,279.11 L424.20,285.40 L424.60,285.47 L425.00,282.50 L425.40,280.73 L425.80,282.03 L426.20,281.70 L426.60,284.67 L427.00,281.05 L427.40,279.83 L427.80,283.40 L428.20,285.70 L428.60,284.15 L429.00,280.65 L429.40,286.39 L429.80,282.61 L430.20,284.68 L430.60,282.70 L431.00,282.96 L431.40,282.36 L431.80,278.95 L432.20,281.43 L432.60,279.33 L433.00,282.73 L433.40,283.50 L433.80,281.53 L434.20,288.92 L434.60,282.49 L435.00,282.03 L435.40,285.24 L435.80,281.33 L436.20,283.69 L436.60,288.06 L437.00,282.89 L437.40,284.65 L437.80,283.60 L438.20,282.75 L438.60,279.52 L439.00,282.16 L439.40,282.47 L439.80,281.51 L440.20,286.57 L440.60,279.55 L441.00,284.88 L441.40,281.39 L441.80,284.99 L442.20,284.65 L442.60,283.31 L443.00,278.04 L443.40,280.80 L443.80,283.79 L444.20,283.05 L444.60,285.05 L445.00,282.48 L445.40,283.72 L445.80,280.74 L446.20,285.52 L446.60,283.17 L447.00,284.34 L447.40,284.05 L447.80,280.76 L448.20,282.11 L448.60,281.05 L449.00,279.67 L449.40,279.76 L449.80,285.56 L450.20,281.16 L450.60,286.45 L451.00,282.55 L451.40,277.99 L451.80,282.85 L452.20,283.25 L452.60,282.01 L453.00,282.36 L453.40,282.34 L453.80,284.14 L454.20,279.91 L454.60,280.35 L455.00,282.87 L455.40,281.65 L455.80,280.84 L456.20,279.94 L456.60,281.36 L457.00,280.57 L457.40,282.63 L457.80,284.27 L458.20,282.64 L458.60,278.69 L459.00,278.14 L459.40,279.15 L459.80,279.58 L460.20,275.99 L460.60,270.86 L461.00,269.32 L461.40,270.58 L461.80,265.89 L462.20,264.34 L462.60,259.58 L463.00,253.51 L463.40,249.78 L463.80,245.30 L464.20,242.48 L464.60,241.54 L465.00,241.22 L465.40,244.40 L465.80,248.25 L466.20,252.37 L466.60,257.88 L467.00,267.42 L467.40,277.26 L467.80,285.88 L468.20,294.62 L468.60,304.76 L469.00,311.07 L469.40,317.86 L469.80,320.58 L470.20,323.09 L470.60,323.88 L471.00,321.06 L471.40,320.99 L471.80,317.97 L472.20,310.74 L472.60,310.15 L473.00,301.13 L473.40,300.64 L473.80,298.87 L474.20,293.70 L474.60,290.70 L475.00,288.33 L475.40,287.49 L475.80,283.22 L476.20,290.03 L476.60,285.24 L477.00,284.04 L477.40,278.89 L477.80,287.42 L478.20,283.45 L478.60,285.19 L479.00,284.03 L479.40,280.98 L479.80,281.49 L480.20,279.11 L480.60,283.79 L481.00,281.79 L481.40,279.70 L481.80,280.32 L482.20,283.17 L482.60,279.81 L483.00,284.52 L483.40,278.25 L483.80,282.04 L484.20,282.66 L484.60,281.78 L485.00,280.45 L485.40,278.39 L485.80,282.73 L486.20,283.25 L486.60,281.05 L487.00,284.40 L487.40,286.30 L487.80,280.48 L488.20,283.27 L488.60,279.81 L489.00,284.76 L489.40,289.06 L489.80,281.75 L490.20,282.04 L490.60,278.72 L491.00,281.19 L491.40,281.69 L491.80,281.05 L492.20,283.24 L492.60,282.22 L493.00,285.51 L493.40,281.21 L493.80,284.25 L494.20,283.43 L494.60,280.79 L495.00,280.29 L495.40,284.72 L495.80,277.79 L496.20,283.76 L496.60,280.48 L497.00,280.21 L497.40,281.88 L497.80,282.00 L498.20,278.27 L498.60,280.35 L499.00,281.38 L499.40,286.60 L499.80,284.12 L500.20,279.73 L500.60,281.95 L501.00,284.60 L501.40,283.88 L501.80,283.10 L502.20,280.82 L502.60,281.51 L503.00,280.11 L503.40,284.28 L503.80,280.13 L504.20,283.55 L504.60,283.09 L505.00,278.41 L505.40,282.23 L505.80,282.72 L506.20,282.88 L506.60,283.29 L507.00,278.81 L507.40,279.23 L507.80,280.75 L508.20,281.98 L508.60,280.00 L509.00,282.58 L509.40,281.36 L509.80,281.48 L510.20,282.20 L510.60,278.61 L511.00,278.36 L511.40,279.36 L511.80,286.80 L512.20,278.18 L512.60,280.78 L513.00,283.44 L513.40,282.46 L513.80,279.78 L514.20,279.70 L514.60,280.43 L515.00,282.08 L515.40,282.32 L515.80,280.49 L516.20,282.61 L516.60,284.47 L517.00,283.83 L517.40,282.72 L517.80,281.63 L518.20,277.19 L518.60,285.55 L519.00,281.30 L519.40,282.60 L519.80,281.69 L520.20,279.25 L520.60,279.49 L521.00,282.67 L521.40,283.52 L521.80,285.27 L522.20,282.15 L522.60,278.87 L523.00,282.00 L523.40,279.26 L523.80,278.52 L524.20,278.24 L524.60,275.33 L525.00,276.35 L525.40,275.80 L525.80,273.66 L526.20,266.18 L526.60,264.89 L527.00,260.63 L527.40,254.56 L527.80,252.41 L528.20,245.09 L528.60,242.91 L529.00,241.50 L529.40,240.18 L529.80,238.96 L530.20,242.75 L530.60,246.25 L531.00,251.60 L531.40,258.94 L531.80,267.83 L532.20,277.23 L532.60,286.93 L533.00,295.17 L533.40,301.97 L533.80,308.83 L534.20,314.61 L534.60,316.46 L535.00,321.12 L535.40,319.62 L535.80,317.85 L536.20,315.15 L536.60,312.94 L537.00,309.96 L537.40,304.76 L537.80,302.12 L538.20,297.39 L538.60,300.49 L539.00,291.37 L539.40,291.64 L539.80,285.74 L540.20,284.67 L540.60,283.55 L541.00,285.29 L541.40,282.73 L541.80,284.07 L542.20,282.48 L542.60,283.08 L543.00,284.63 L543.40,277.99 L543.80,280.82 L544.20,287.18 L544.60,280.37 L545.00,285.62 L545.40,282.94 L545.80,283.74 L546.20,283.63 L546.60,281.85 L547.00,283.15 L547.40,285.73 L547.80,282.41 L548.20,281.56 L548.60,278.33 L549.00,283.35 L549.40,285.14 L549.80,283.27 L550.20,280.90 L550.60,284.43 L551.00,284.06 L551.40,281.13 L551.80,282.43 L552.20,281.89 L552.60,283.85 L553.00,284.30 L553.40,283.15 L553.80,282.75 L554.20,283.17 L554.60,281.41 L555.00,281.14 L555.40,281.14 L555.80,281.30 L556.20,284.44 L556.60,284.97 L557.00,280.56 L557.40,282.37 L557.80,282.12 L558.20,285.07 L558.60,282.89 L559.00,283.87 L559.40,284.39 L559.80,283.85 L560.20,285.84 L560.60,282.20 L561.00,279.72 L561.40,284.03 L561.80,282.18 L562.20,284.91 L562.60,280.86 L563.00,278.11 L563.40,285.24 L563.80,282.92 L564.20,279.13 L564.60,281.55 L565.00,282.14 L565.40,287.10 L565.80,282.75 L566.20,280.29 L566.60,279.10 L567.00,280.93 L567.40,283.73 L567.80,283.98 L568.20,286.58 L568.60,284.87 L569.00,279.82 L569.40,282.66 L569.80,285.48 L570.20,279.37 L570.60,286.25 L571.00,279.50 L571.40,283.14 L571.80,281.62 L572.20,280.84 L572.60,281.80 L573.00,279.48 L573.40,282.36 L573.80,283.15 L574.20,283.92 L574.60,285.72 L575.00,284.00 L575.40,280.14 L575.80,280.50 L576.20,279.20 L576.60,276.13 L577.00,280.76 L577.40,281.25 L577.80,285.42 L578.20,282.96 L578.60,277.35 L579.00,281.18 L579.40,282.72 L579.80,281.69 L580.20,286.76 L580.60,284.32 L581.00,285.41 L581.40,287.32 L581.80,280.63 L582.20,280.18 L582.60,282.80 L583.00,281.60 L583.40,284.71 L583.80,281.35 L584.20,280.62 L584.60,278.83 L585.00,278.74 L585.40,281.17 L585.80,282.51 L586.20,284.00 L586.60,283.31 L587.00,280.22 L587.40,279.94 L587.80,280.61 L588.20,276.02 L588.60,277.24 L589.00,277.22 L589.40,275.79 L589.80,272.77 L590.20,271.97 L590.60,268.39 L591.00,261.99 L591.40,259.16 L591.80,254.08 L592.20,247.60 L592.60,245.21 L593.00,240.10 L593.40,239.05 L593.80,236.69 L594.20,238.33 L594.60,242.57 L595.00,245.01 L595.40,252.44 L595.80,261.59 L596.20,269.69 L596.60,279.74 L597.00,289.60 L597.40,297.45 L597.80,304.15 L598.20,309.73 L598.60,314.52 L599.00,317.40 L599.40,318.76 L599.80,321.79 L600.20,318.76 L600.60,315.28 L601.00,315.50 L601.40,307.46 L601.80,303.32 L602.20,302.16 L602.60,298.06 L603.00,296.10 L603.40,291.58 L603.80,289.39 L604.20,287.50 L604.60,288.42 L605.00,284.09 L605.40,284.97 L605.80,281.42 L606.20,282.47 L606.60,286.33 L607.00,286.04 L607.40,282.44 L607.80,283.64 L608.20,281.39 L608.60,280.59 L609.00,282.38 L609.40,286.29 L609.80,285.16 L610.20,281.09 L610.60,284.82 L611.00,279.85 L611.40,282.61 L611.80,281.20 L612.20,284.43 L612.60,282.63 L613.00,289.21 L613.40,282.88 L613.80,281.08 L614.20,284.46 L614.60,284.34 L615.00,282.52 L615.40,282.25 L615.80,284.26 L616.20,280.85 L616.60,286.18 L617.00,279.84 L617.40,285.63 L617.80,284.29 L618.20,279.34 L618.60,284.69 L619.00,286.20 L619.40,282.23 L619.80,284.52 L620.20,284.97 L620.60,284.01 L621.00,284.11 L621.40,284.64 L621.80,284.77 L622.20,278.69 L622.60,283.95 L623.00,280.17 L623.40,285.63 L623.80,281.15 L624.20,285.28 L624.60,283.45 L625.00,280.94 L625.40,283.62 L625.80,286.92 L626.20,283.67 L626.60,282.76 L627.00,281.08 L627.40,284.70 L627.80,283.09 L628.20,282.26 L628.60,286.19 L629.00,282.65 L629.40,284.30 L629.80,281.39 L630.20,282.65 L630.60,282.78 L631.00,287.95 L631.40,282.65 L631.80,283.25 L632.20,284.57 L632.60,283.57 L633.00,285.31 L633.40,282.00 L633.80,280.88 L634.20,281.03 L634.60,283.60 L635.00,278.54 L635.40,280.43 L635.80,284.58 L636.20,282.72 L636.60,286.15 L637.00,282.67 L637.40,280.76 L637.80,279.48 L638.20,283.36 L638.60,286.51 L639.00,282.79 L639.40,279.27 L639.80,282.07 L640.20,279.47 L640.60,280.50 L641.00,278.81 L641.40,281.02 L641.80,283.93 L642.20,281.37 L642.60,276.56 L643.00,283.59 L643.40,286.67 L643.80,277.56 L644.20,281.46 L644.60,283.84 L645.00,283.80 L645.40,285.94 L645.80,280.78 L646.20,282.07 L646.60,283.86 L647.00,283.37 L647.40,283.38 L647.80,279.95 L648.20,282.82 L648.60,279.23 L649.00,284.33 L649.40,283.81 L649.80,283.51 L650.20,283.64 L650.60,282.61 L651.00,280.04 L651.40,279.62 L651.80,284.87 L652.20,279.46 L652.60,282.18 L653.00,278.75 L653.40,282.79 L653.80,284.33 L654.20,280.58 L654.60,280.97 L655.00,283.45 L655.40,282.35 L655.80,282.10 L656.20,281.68 L656.60,286.34 L657.00,285.17 L657.40,282.27 L657.80,281.80 L658.20,283.61 L658.60,286.45 L659.00,279.31 L659.40,283.11 L659.80,284.81 L660.20,278.73 L660.60,279.80 L661.00,280.01 L661.40,280.48 L661.80,281.09 L662.20,284.64 L662.60,282.33 L663.00,281.58 L663.40,280.94 L663.80,281.31 L664.20,284.72 L664.60,283.79 L665.00,283.16 L665.40,282.85 L665.80,284.41 L666.20,286.59 L666.60,285.20" fill="none" stroke="#1a1a1a" stroke-width="0.9"/>
<path d="M403.00,275.52 L403.40,284.22 L403.80,281.15 L404.20,281.88 L404.60,279.88 L405.00,286.37 L405.40,283.50 L405.80,284.48 L406.20,285.42 L406.60,284.75 L407.00,283.79 L407.40,283.13 L407.80,284.93 L408.20,281.08 L408.60,283.89 L409.00,291.57 L409.40,278.85 L409.80,283.44 L410.20,284.46 L410.60,281.52 L411.00,281.63 L411.40,282.15 L411.80,284.78 L412.20,281.74 L412.60,286.76 L413.00,278.11 L413.40,285.97 L413.80,282.90 L414.20,282.24 L414.60,281.67 L415.00,283.02 L415.40,280.90 L415.80,292.84 L416.20,282.98 L416.60,283.14 L417.00,283.93 L417.40,278.24 L417.80,285.51 L418.20,282.92 L418.60,288.58 L419.00,281.89 L419.40,287.40 L419.80,287.25 L420.20,275.81 L420.60,280.63 L421.00,282.71 L421.40,282.18 L421.80,286.89 L422.20,285.76 L422.60,281.44 L423.00,288.88 L423.40,281.89 L423.80,287.77 L424.20,282.33 L424.60,285.95 L425.00,277.53 L425.40,279.70 L425.80,284.20 L426.20,288.24 L426.60,284.99 L427.00,282.85 L427.40,285.60 L427.80,281.85 L428.20,279.77 L428.60,282.84 L429.00,283.96 L429.40,280.38 L429.80,283.55 L430.20,280.18 L430.60,283.62 L431.00,277.92 L431.40,283.50 L431.80,285.80 L432.20,282.39 L432.60,284.54 L433.00,285.44 L433.40,283.05 L433.80,280.47 L434.20,289.05 L434.60,282.80 L435.00,283.12 L435.40,283.10 L435.80,280.30 L436.20,286.52 L436.60,280.72 L437.00,283.34 L437.40,282.33 L437.80,283.31 L438.20,283.63 L438.60,284.20 L439.00,281.43 L439.40,276.44 L439.80,279.53 L440.20,280.12 L440.60,280.98 L441.00,284.03 L441.40,280.83 L441.80,276.50 L442.20,286.38 L442.60,280.15 L443.00,279.60 L443.40,281.75 L443.80,280.26 L444.20,278.48 L444.60,276.05 L445.00,278.71 L445.40,277.67 L445.80,281.56 L446.20,280.09 L446.60,282.00 L447.00,281.64 L447.40,283.86 L447.80,280.50 L448.20,278.23 L448.60,282.95 L449.00,281.73 L449.40,280.64 L449.80,282.40 L450.20,279.70 L450.60,281.70 L451.00,285.88 L451.40,285.46 L451.80,280.31 L452.20,280.58 L452.60,279.19 L453.00,281.69 L453.40,281.82 L453.80,287.03 L454.20,278.32 L454.60,285.11 L455.00,279.35 L455.40,285.73 L455.80,284.31 L456.20,281.89 L456.60,283.55 L457.00,284.30 L457.40,279.53 L457.80,280.05 L458.20,280.68 L458.60,282.55 L459.00,283.59 L459.40,282.06 L459.80,281.52 L460.20,279.20 L460.60,275.88 L461.00,277.14 L461.40,277.01 L461.80,274.74 L462.20,269.04 L462.60,269.27 L463.00,267.27 L463.40,265.50 L463.80,263.73 L464.20,263.43 L464.60,262.05 L465.00,263.01 L465.40,267.70 L465.80,267.40 L466.20,267.90 L466.60,274.82 L467.00,277.86 L467.40,281.52 L467.80,287.21 L468.20,290.81 L468.60,296.90 L469.00,300.28 L469.40,301.83 L469.80,303.87 L470.20,304.85 L470.60,302.72 L471.00,302.02 L471.40,300.78 L471.80,299.49 L472.20,296.23 L472.60,294.72 L473.00,293.91 L473.40,289.21 L473.80,287.72 L474.20,286.96 L474.60,283.95 L475.00,288.20 L475.40,284.65 L475.80,285.17 L476.20,279.36 L476.60,281.45 L477.00,276.57 L477.40,278.00 L477.80,283.54 L478.20,285.58 L478.60,280.96 L479.00,283.16 L479.40,282.78 L479.80,285.39 L480.20,280.56 L480.60,281.76 L481.00,281.13 L481.40,281.40 L481.80,284.92 L482.20,288.79 L482.60,283.09 L483.00,284.14 L483.40,283.83 L483.80,279.52 L484.20,282.59 L484.60,277.92 L485.00,281.77 L485.40,280.31 L485.80,280.83 L486.20,279.96 L486.60,285.95 L487.00,279.14 L487.40,281.99 L487.80,285.13 L488.20,280.52 L488.60,281.30 L489.00,278.57 L489.40,280.18 L489.80,281.24 L490.20,287.03 L490.60,277.44 L491.00,277.99 L491.40,280.05 L491.80,280.96 L492.20,278.77 L492.60,284.82 L493.00,280.27 L493.40,282.23 L493.80,285.21 L494.20,281.23 L494.60,281.28 L495.00,277.36 L495.40,279.56 L495.80,286.95 L496.20,287.99 L496.60,282.53 L497.00,282.91 L497.40,285.02 L497.80,286.53 L498.20,282.86 L498.60,285.66 L499.00,284.31 L499.40,279.80 L499.80,281.61 L500.20,284.49 L500.60,285.56 L501.00,282.84 L501.40,277.27 L501.80,283.77 L502.20,277.28 L502.60,284.58 L503.00,282.91 L503.40,280.29 L503.80,284.54 L504.20,282.14 L504.60,286.23 L505.00,280.38 L505.40,278.94 L505.80,284.19 L506.20,281.76 L506.60,283.49 L507.00,288.56 L507.40,274.34 L507.80,280.48 L508.20,279.90 L508.60,281.18 L509.00,281.80 L509.40,275.43 L509.80,287.60 L510.20,283.21 L510.60,283.52 L511.00,282.90 L511.40,280.28 L511.80,284.39 L512.20,286.15 L512.60,285.58 L513.00,280.98 L513.40,279.54 L513.80,279.96 L514.20,277.67 L514.60,283.81 L515.00,279.42 L515.40,280.31 L515.80,282.78 L516.20,284.48 L516.60,279.75 L517.00,284.28 L517.40,283.15 L517.80,285.12 L518.20,277.23 L518.60,282.45 L519.00,283.75 L519.40,283.01 L519.80,282.94 L520.20,282.01 L520.60,287.20 L521.00,285.58 L521.40,280.69 L521.80,278.93 L522.20,284.87 L522.60,281.41 L523.00,283.12 L523.40,287.64 L523.80,281.39 L524.20,282.88 L524.60,276.23 L525.00,278.13 L525.40,276.11 L525.80,277.75 L526.20,271.79 L526.60,273.73 L527.00,266.94 L527.40,262.58 L527.80,264.36 L528.20,259.36 L528.60,257.29 L529.00,258.49 L529.40,257.25 L529.80,259.45 L530.20,262.17 L530.60,266.63 L531.00,270.02 L531.40,275.22 L531.80,277.79 L532.20,284.32 L532.60,288.91 L533.00,293.73 L533.40,294.61 L533.80,299.60 L534.20,298.95 L534.60,300.14 L535.00,301.27 L535.40,301.56 L535.80,299.63 L536.20,299.97 L536.60,295.04 L537.00,291.06 L537.40,290.41 L537.80,288.05 L538.20,290.43 L538.60,286.48 L539.00,289.07 L539.40,286.42 L539.80,282.23 L540.20,276.48 L540.60,283.10 L541.00,282.88 L541.40,288.25 L541.80,282.09 L542.20,285.13 L542.60,286.49 L543.00,286.70 L543.40,281.93 L543.80,283.49 L544.20,280.35 L544.60,282.99 L545.00,282.32 L545.40,278.04 L545.80,279.97 L546.20,280.07 L546.60,278.01 L547.00,281.67 L547.40,285.18 L547.80,284.62 L548.20,286.85 L548.60,281.27 L549.00,283.48 L549.40,280.82 L549.80,279.87 L550.20,284.66 L550.60,281.77 L551.00,278.61 L551.40,282.06 L551.80,279.59 L552.20,282.87 L552.60,285.07 L553.00,282.97 L553.40,287.79 L553.80,280.24 L554.20,283.81 L554.60,278.38 L555.00,285.89 L555.40,281.93 L555.80,281.30 L556.20,282.89 L556.60,281.19 L557.00,284.50 L557.40,285.43 L557.80,286.41 L558.20,283.95 L558.60,284.68 L559.00,281.61 L559.40,283.38 L559.80,284.23 L560.20,284.45 L560.60,287.85 L561.00,283.38 L561.40,281.09 L561.80,286.20 L562.20,283.05 L562.60,280.33 L563.00,284.33 L563.40,281.74 L563.80,283.55 L564.20,275.11 L564.60,278.21 L565.00,278.83 L565.40,284.30 L565.80,280.40 L566.20,282.78 L566.60,281.24 L567.00,283.99 L567.40,281.84 L567.80,284.55 L568.20,281.44 L568.60,277.14 L569.00,286.33 L569.40,286.17 L569.80,280.82 L570.20,279.97 L570.60,283.40 L571.00,280.57 L571.40,281.05 L571.80,280.68 L572.20,278.24 L572.60,284.21 L573.00,280.36 L573.40,281.71 L573.80,284.33 L574.20,280.82 L574.60,286.13 L575.00,286.67 L575.40,279.13 L575.80,285.56 L576.20,277.32 L576.60,279.24 L577.00,283.84 L577.40,284.90 L577.80,288.87 L578.20,282.53 L578.60,287.13 L579.00,277.67 L579.40,287.27 L579.80,282.12 L580.20,290.36 L580.60,283.35 L581.00,278.39 L581.40,283.63 L581.80,284.74 L582.20,283.72 L582.60,281.20 L583.00,279.68 L583.40,283.01 L583.80,288.36 L584.20,281.39 L584.60,279.41 L585.00,275.46 L585.40,281.75 L585.80,281.69 L586.20,283.73 L586.60,279.79 L587.00,276.61 L587.40,284.57 L587.80,281.03 L588.20,283.88 L588.60,282.20 L589.00,279.87 L589.40,276.80 L589.80,279.26 L590.20,276.10 L590.60,270.33 L591.00,270.37 L591.40,267.88 L591.80,266.26 L592.20,265.08 L592.60,262.25 L593.00,260.68 L593.40,260.47 L593.80,259.27 L594.20,261.16 L594.60,262.13 L595.00,265.67 L595.40,268.73 L595.80,274.18 L596.20,278.93 L596.60,284.16 L597.00,286.33 L597.40,290.48 L597.80,293.86 L598.20,296.01 L598.60,299.11 L599.00,299.23 L599.40,300.17 L599.80,301.50 L600.20,298.61 L600.60,298.20 L601.00,292.89 L601.40,294.87 L601.80,292.97 L602.20,287.86 L602.60,288.52 L603.00,290.69 L603.40,285.34 L603.80,287.30 L604.20,279.25 L604.60,286.89 L605.00,285.52 L605.40,291.13 L605.80,284.77 L606.20,277.05 L606.60,282.88 L607.00,285.29 L607.40,281.53 L607.80,283.22 L608.20,282.46 L608.60,274.94 L609.00,276.34 L609.40,277.58 L609.80,277.38 L610.20,285.05 L610.60,288.12 L611.00,280.11 L611.40,281.14 L611.80,282.19 L612.20,282.67 L612.60,280.18 L613.00,280.64 L613.40,281.54 L613.80,280.85 L614.20,282.92 L614.60,283.42 L615.00,278.17 L615.40,283.05 L615.80,276.39 L616.20,280.39 L616.60,282.12 L617.00,278.98 L617.40,283.78 L617.80,282.87 L618.20,283.32 L618.60,282.31 L619.00,280.28 L619.40,276.13 L619.80,280.76 L620.20,285.47 L620.60,284.76 L621.00,287.69 L621.40,280.15 L621.80,279.70 L622.20,281.32 L622.60,281.24 L623.00,280.74 L623.40,281.04 L623.80,280.39 L624.20,281.64 L624.60,285.24 L625.00,279.51 L625.40,278.34 L625.80,287.17 L626.20,283.00 L626.60,285.68 L627.00,280.80 L627.40,283.16 L627.80,278.08 L628.20,279.01 L628.60,283.69 L629.00,283.73 L629.40,284.05 L629.80,280.60 L630.20,285.08 L630.60,281.01 L631.00,286.46 L631.40,279.20 L631.80,280.89 L632.20,285.75 L632.60,284.64 L633.00,281.90 L633.40,281.48 L633.80,290.80 L634.20,281.71 L634.60,277.82 L635.00,283.64 L635.40,286.33 L635.80,278.69 L636.20,281.60 L636.60,281.73 L637.00,280.48 L637.40,285.96 L637.80,284.31 L638.20,285.67 L638.60,285.69 L639.00,283.27 L639.40,285.45 L639.80,277.53 L640.20,280.82 L640.60,279.86 L641.00,287.24 L641.40,282.96 L641.80,282.77 L642.20,281.84 L642.60,280.99 L643.00,284.69 L643.40,285.04 L643.80,279.48 L644.20,275.63 L644.60,276.15 L645.00,283.16 L645.40,284.65 L645.80,281.76 L646.20,280.92 L646.60,277.07 L647.00,283.01 L647.40,284.53 L647.80,279.22 L648.20,284.46 L648.60,284.86 L649.00,280.73 L649.40,282.89 L649.80,285.44 L650.20,283.10 L650.60,283.55 L651.00,282.98 L651.40,284.51 L651.80,280.60 L652.20,283.37 L652.60,284.10 L653.00,279.18 L653.40,285.06 L653.80,280.08 L654.20,280.57 L654.60,283.20 L655.00,281.68 L655.40,286.72 L655.80,281.59 L656.20,285.38 L656.60,284.86 L657.00,281.55 L657.40,284.49 L657.80,281.93 L658.20,281.10 L658.60,279.23 L659.00,281.14 L659.40,279.25 L659.80,284.54 L660.20,283.41 L660.60,280.40 L661.00,278.83 L661.40,280.99 L661.80,283.88 L662.20,285.48 L662.60,285.13 L663.00,279.01 L663.40,285.21 L663.80,283.00 L664.20,280.45 L664.60,281.03 L665.00,284.39 L665.40,276.46 L665.80,281.84 L666.20,281.49 L666.60,279.92" fill="none" stroke="#f08a1a" stroke-width="1.05"/>
</svg>
</body></html>
